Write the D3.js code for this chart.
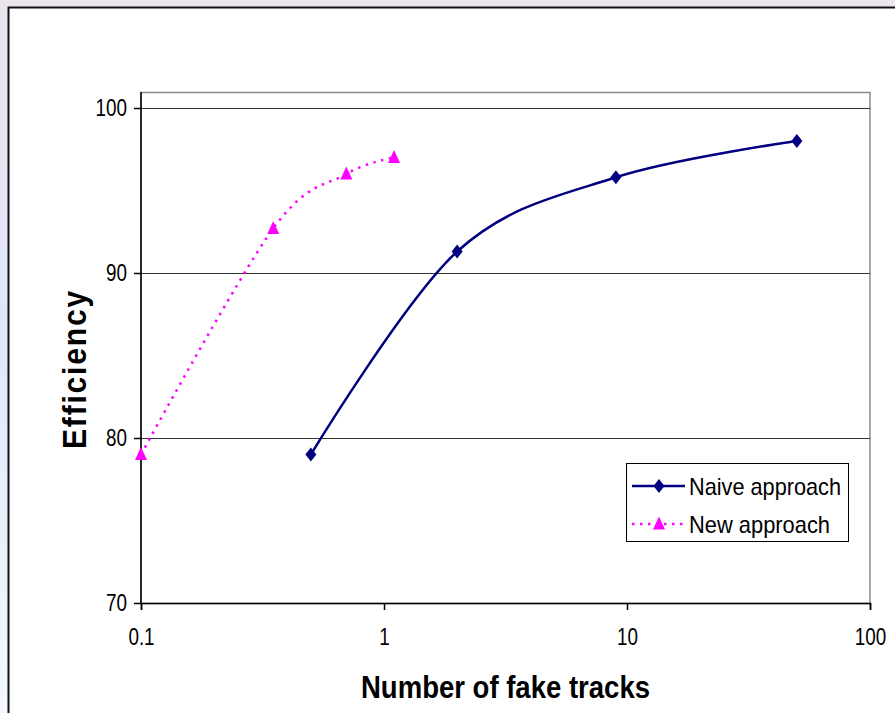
<!DOCTYPE html>
<html>
<head>
<meta charset="utf-8">
<script src="https://cdn.jsdelivr.net/npm/d3@7"></script>
<style>
    body { margin: 0; padding: 0; overflow: hidden; }
    svg { display: block; font-family: "Liberation Sans", Arial, sans-serif; }
</style>
</head>
<body>
<div id="chart"></div>
<script>
// data
const seriesNames = ["Naive approach", "New approach"];
const naiveX = [0.5, 2, 9, 50];
const naiveY = [79, 91.3, 95.8, 98];
const newX = [0.1, 0.35, 0.7, 1.1];
const newY = [79, 92.7, 96, 97];
const xTicks = [0.1, 1, 10, 100];
const yTicks = [70, 80, 90, 100];
const gridValues = [80, 90, 100];

const W = 895, H = 713;
const plot = { left: 141, right: 870, top: 92, bottom: 603 };

const svg = d3.select("#chart").append("svg")
    .attr("width", W)
    .attr("height", H);

// slide background behind the chart panel
const defs = svg.append("defs");
const grad = defs.append("linearGradient")
    .attr("id", "bg").attr("x1", 0).attr("y1", 0).attr("x2", 0).attr("y2", 1);
grad.append("stop").attr("offset", "0%").attr("stop-color", "#ebe6ec");
grad.append("stop").attr("offset", "15%").attr("stop-color", "#e6e6f2");
grad.append("stop").attr("offset", "45%").attr("stop-color", "#e1e5fa");
grad.append("stop").attr("offset", "100%").attr("stop-color", "#f4f8fe");
svg.append("rect").attr("width", W).attr("height", H).attr("fill", "url(#bg)");

// white chart panel
svg.append("rect")
    .attr("x", 8.5).attr("y", 7.5)
    .attr("width", W + 20).attr("height", H + 20)
    .attr("fill", "#fff")
    .attr("stroke", "#111")
    .attr("stroke-width", 2);

let x = d3.scaleLog().domain([0.1, 100]).range([plot.left, plot.right]);
let y = d3.scaleLinear().domain([70, 100]).range([plot.bottom, 108]);

// plot area frame
svg.append("rect")
    .attr("x", plot.left).attr("y", plot.top + 0.5)
    .attr("width", plot.right - plot.left)
    .attr("height", plot.bottom - plot.top)
    .attr("fill", "none")
    .attr("stroke", "#8a8a8a")
    .attr("stroke-width", 1.5);

// horizontal gridlines
svg.append("g").selectAll("line")
    .data(gridValues)
    .enter()
    .append("line")
    .attr("x1", plot.left).attr("x2", plot.right)
    .attr("y1", d => Math.round(y(d)) + 0.5)
    .attr("y2", d => Math.round(y(d)) + 0.5)
    .attr("stroke", "#333")
    .attr("stroke-width", 1);

// y axis
let yAxis = svg.append("g")
    .attr("transform", "translate(" + plot.left + ",0)")
    .call(d3.axisLeft(y).tickValues(yTicks).tickSize(7).tickPadding(7));
yAxis.select(".domain").attr("d", "M0," + plot.top + "V" + plot.bottom);

// x axis
let xAxis = svg.append("g")
    .attr("transform", "translate(0," + plot.bottom + ")")
    .call(d3.axisBottom(x).tickValues(xTicks).tickFormat(d3.format("~g")).tickSize(7).tickPadding(19));

svg.selectAll(".domain, .tick line")
    .attr("stroke", "#000")
    .attr("stroke-width", 1.5);

// tick labels look a bit narrow in the picture
svg.selectAll(".tick text")
    .style("font-size", "23px")
    .attr("fill", "#000")
    .each(function () {
        let w = this.getComputedTextLength();
        d3.select(this)
            .attr("textLength", w * 0.82)
            .attr("lengthAdjust", "spacingAndGlyphs");
    });

// axis titles
svg.append("text")
    .attr("x", (plot.left + plot.right) / 2)
    .attr("y", 698)
    .attr("text-anchor", "middle")
    .attr("textLength", 289)
    .attr("lengthAdjust", "spacingAndGlyphs")
    .style("font-size", "31px")
    .style("font-weight", "bold")
    .text("Number of  fake tracks");

svg.append("text")
    .attr("transform", "translate(86,369) rotate(-90)")
    .attr("text-anchor", "middle")
    .attr("textLength", 160)
    .attr("lengthAdjust", "spacingAndGlyphs")
    .style("font-size", "34px")
    .style("font-weight", "bold")
    .style("letter-spacing", "2px")
    .text("Efficiency");

// smoothed lines like the spreadsheet ones
let line = d3.line()
    .x(d => x(d[0]))
    .y(d => y(d[1]))
    .curve(d3.curveCardinal.tension(0));

const naive = naiveX.map((v, i) => [v, naiveY[i]]);
const fresh = newX.map((v, i) => [v, newY[i]]);

const diamond = "M0,-7L5.5,0L0,7L-5.5,0Z";
const triangle = "M0,-7.5L6,5.5L-6,5.5Z";

svg.append("path")
    .attr("d", line(fresh))
    .attr("fill", "none")
    .attr("stroke", "#ff00ff")
    .attr("stroke-width", 2.5)
    .attr("stroke-dasharray", "2.5,5.5");

svg.append("path")
    .attr("d", line(naive))
    .attr("fill", "none")
    .attr("stroke", "#000080")
    .attr("stroke-width", 2.5);

svg.append("g").selectAll("path")
    .data(naive)
    .enter()
    .append("path")
    .attr("d", diamond)
    .attr("transform", d => "translate(" + x(d[0]) + "," + y(d[1]) + ")")
    .attr("fill", "#000080");

svg.append("g").selectAll("path")
    .data(fresh)
    .enter()
    .append("path")
    .attr("d", triangle)
    .attr("transform", d => "translate(" + x(d[0]) + "," + y(d[1]) + ")")
    .attr("fill", "#ff00ff");

// legend
let legend = svg.append("g").attr("transform", "translate(626,463)");
legend.append("rect")
    .attr("x", 0.5).attr("y", 0.5)
    .attr("width", 222).attr("height", 78)
    .attr("fill", "#fff")
    .attr("stroke", "#000")
    .attr("stroke-width", 1);

const legendStyles = [
    { color: "#000080", dash: null, shape: diamond },
    { color: "#ff00ff", dash: "2.5,5.5", shape: triangle }
];
let item = legend.selectAll(".legendItem")
    .data(seriesNames)
    .enter()
    .append("g")
    .attr("class", "legendItem")
    .attr("transform", (d, i) => "translate(0," + (23 + i * 38) + ")");

item.append("line")
    .attr("x1", 6).attr("x2", 59)
    .attr("stroke", (d, i) => legendStyles[i].color)
    .attr("stroke-width", 2.5)
    .attr("stroke-dasharray", (d, i) => legendStyles[i].dash);
item.append("path")
    .attr("d", (d, i) => legendStyles[i].shape)
    .attr("transform", "translate(33,0)")
    .attr("fill", (d, i) => legendStyles[i].color);
item.append("text")
    .attr("x", 63)
    .attr("dy", "0.36em")
    .attr("textLength", (d, i) => i === 0 ? 152 : 141)
    .attr("lengthAdjust", "spacingAndGlyphs")
    .style("font-size", "24px")
    .text(d => d);
</script>
</body>
</html>
